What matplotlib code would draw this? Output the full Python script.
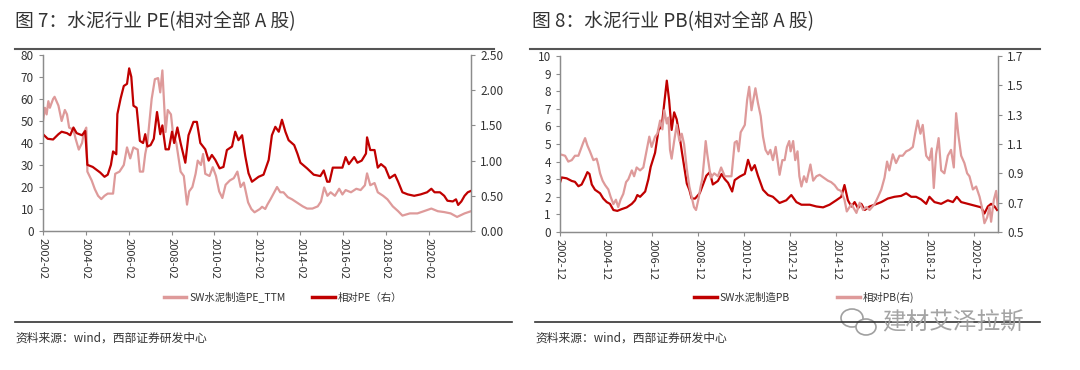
import matplotlib
matplotlib.use('Agg')
import matplotlib.pyplot as plt
from matplotlib.lines import Line2D
from matplotlib.patches import Ellipse

plt.rcParams['font.family'] = ['Noto Sans CJK SC', 'DejaVu Sans']

# ---- 数据：图7 水泥行业PE ----
pe_t = [2002.08, 2002.17, 2002.25, 2002.33, 2002.4, 2002.55, 2002.62, 2002.8, 2002.95, 2003.1,
        2003.2, 2003.3, 2003.5, 2003.6, 2003.75, 2003.9, 2004.0, 2004.1, 2004.15, 2004.35,
        2004.5, 2004.65, 2004.8, 2004.95, 2005.1, 2005.35, 2005.45, 2005.65, 2005.85, 2006.0,
        2006.15, 2006.3, 2006.5, 2006.6, 2006.75, 2006.85, 2006.95, 2007.15, 2007.3, 2007.45,
        2007.55, 2007.65, 2007.8, 2007.9, 2008.05, 2008.15, 2008.3, 2008.5, 2008.65, 2008.8,
        2008.9, 2009.05, 2009.2, 2009.3, 2009.45, 2009.55, 2009.65, 2009.85, 2010.0, 2010.15,
        2010.3, 2010.45, 2010.6, 2010.8, 2010.98, 2011.15, 2011.3, 2011.45, 2011.65, 2011.8,
        2011.95, 2012.2, 2012.3, 2012.45, 2012.55, 2012.7, 2012.87, 2013.0, 2013.15, 2013.3,
        2013.5, 2013.7, 2013.95, 2014.2, 2014.4, 2014.65, 2014.9, 2015.05, 2015.2, 2015.35,
        2015.5, 2015.7, 2015.9, 2016.05, 2016.2, 2016.45, 2016.7, 2016.9, 2017.1, 2017.2,
        2017.35, 2017.55, 2017.7, 2017.95, 2018.15, 2018.4, 2018.65, 2018.85, 2019.2, 2019.55,
        2019.85, 2020.2, 2020.5, 2020.8, 2021.1, 2021.4, 2021.75, 2022.05]
pe_ttm = [50, 56, 53, 59, 56, 60, 61, 57, 50, 55,
          53, 47, 46, 42, 37, 40, 45, 47, 27, 23,
          19, 16, 14.5, 16, 17, 17, 26, 27, 30, 38,
          33, 38, 37, 27, 27, 35, 40, 60, 69, 69.5,
          63, 73, 45, 55, 53, 44, 40, 27, 25, 12,
          18, 20, 26, 32, 30, 35, 26, 25, 29, 25,
          18, 15, 21, 23, 24, 27, 20, 22, 13, 10,
          8.5, 10, 11, 10, 12, 14.5, 17.6, 20, 17.6, 17.6,
          15.4, 14.4, 12.8, 11.2, 10.2, 10.2, 11.2, 13.4, 19.8, 16,
          17.6, 16, 19.2, 16.6, 18.6, 17.6, 19.2, 18.6, 20.8, 26.2,
          20.8, 21.8, 17.6, 16, 14.4, 11.2, 9, 7, 8, 8,
          9, 10.2, 9, 8.6, 8, 6.4, 8, 9]

rpe_t = [2002.08, 2002.3, 2002.55, 2002.8, 2002.95, 2003.2, 2003.35, 2003.5, 2003.65, 2003.9,
         2004.05, 2004.15, 2004.4, 2004.75, 2004.95, 2005.1, 2005.25, 2005.35, 2005.5, 2005.55,
         2005.7, 2005.85, 2006.0, 2006.1, 2006.2, 2006.3, 2006.45, 2006.6, 2006.75, 2006.85,
         2006.95, 2007.1, 2007.25, 2007.4, 2007.55, 2007.65, 2007.8, 2007.95, 2008.1, 2008.2,
         2008.35, 2008.5, 2008.72, 2008.87, 2009.1, 2009.26, 2009.42, 2009.65, 2009.81, 2009.96,
         2010.12, 2010.32, 2010.5, 2010.66, 2010.9, 2011.05, 2011.2, 2011.37, 2011.52, 2011.67,
         2011.83, 2012.14, 2012.37, 2012.61, 2012.76, 2012.92, 2013.08, 2013.23, 2013.39, 2013.54,
         2013.8, 2013.95, 2014.09, 2014.4, 2014.71, 2015.02, 2015.18, 2015.34, 2015.45, 2015.6,
         2015.8, 2016.05, 2016.2, 2016.35, 2016.6, 2016.75, 2016.95, 2017.15, 2017.2, 2017.35,
         2017.55, 2017.7, 2017.85, 2018.05, 2018.25, 2018.5, 2018.65, 2018.85, 2019.1, 2019.4,
         2019.7, 2020.0, 2020.2, 2020.35, 2020.6, 2020.8, 2020.95, 2021.2, 2021.35, 2021.45,
         2021.6, 2021.75, 2021.9, 2022.05]
rel_pe = [1.375, 1.31, 1.30, 1.375, 1.41, 1.39, 1.36, 1.47, 1.39, 1.36,
          1.42, 0.94, 0.91, 0.83, 0.77, 0.80, 0.94, 1.13, 1.09, 1.66,
          1.88, 2.06, 2.09, 2.31, 2.19, 1.78, 1.75, 1.28, 1.25, 1.375,
          1.20, 1.22, 1.31, 1.69, 1.375, 1.5, 1.16, 1.16, 1.41, 1.25,
          1.47, 1.25, 0.97, 1.36, 1.55, 1.55, 1.25, 1.16, 1.0, 1.08,
          1.01, 0.89, 0.91, 1.15, 1.20, 1.41, 1.29, 1.36, 1.06, 0.82,
          0.70, 0.77, 0.80, 1.01, 1.36, 1.48, 1.41, 1.58, 1.41, 1.29,
          1.22, 1.1, 0.97, 0.89, 0.8, 0.78, 0.86, 0.70, 0.70, 0.9,
          0.9, 0.9, 1.05, 0.95, 1.05, 0.97, 1.0, 1.1, 1.33, 1.15,
          1.15, 0.9, 0.95, 0.9, 0.75, 0.8, 0.7, 0.55, 0.52, 0.5,
          0.52, 0.55, 0.6, 0.55, 0.55, 0.5, 0.43, 0.42, 0.45, 0.37,
          0.42, 0.5, 0.55, 0.57]

# ---- 数据：图8 水泥行业PB ----
pb_t = [2002.92, 2002.99, 2003.21, 2003.43, 2003.57, 2003.72, 2003.86, 2004.01, 2004.11, 2004.2,
        2004.3, 2004.44, 2004.66, 2004.8, 2004.95, 2005.09, 2005.24, 2005.41, 2005.6, 2005.82,
        2006.04, 2006.18, 2006.28, 2006.4, 2006.62, 2006.76, 2006.86, 2007.05, 2007.2, 2007.34,
        2007.44, 2007.56, 2007.66, 2007.77, 2007.88, 2007.99, 2008.11, 2008.21, 2008.43, 2008.54,
        2008.64, 2008.79, 2008.99, 2009.28, 2009.43, 2009.56, 2009.78, 2009.94, 2010.08, 2010.22,
        2010.4, 2010.51, 2010.73, 2010.95, 2011.09, 2011.24, 2011.38, 2011.52, 2011.74, 2011.96,
        2012.17, 2012.46, 2012.75, 2012.97, 2013.19, 2013.41, 2013.77, 2014.06, 2014.35, 2014.63,
        2014.92, 2015.14, 2015.28, 2015.43, 2015.58, 2015.72, 2015.87, 2016.01, 2016.16, 2016.37,
        2016.59, 2016.88, 2017.16, 2017.45, 2017.74, 2017.96, 2018.18, 2018.39, 2018.61, 2018.83,
        2018.97, 2019.19, 2019.48, 2019.77, 2019.99, 2020.16, 2020.35, 2020.64, 2020.93, 2021.22,
        2021.36, 2021.51, 2021.65, 2021.8, 2021.91]
pb = [2.8, 3.1, 3.05, 2.9, 2.85, 2.6, 2.7, 3.1, 3.4, 3.3,
      2.7, 2.4, 2.2, 1.9, 1.7, 1.6, 1.25, 1.2, 1.3, 1.4,
      1.6, 1.8, 2.1, 2.0, 2.3, 3.0, 3.7, 4.5, 5.8, 6.0,
      7.2, 8.6, 7.5, 5.8, 6.8, 6.4, 5.5, 4.6, 2.75, 2.4,
      1.9, 1.9, 2.2, 3.2, 3.4, 2.7, 2.9, 3.3, 3.0, 2.8,
      2.3, 2.95, 3.15, 3.3, 4.1, 3.5, 3.8, 3.2, 2.4, 2.1,
      2.0, 1.65, 1.8, 2.1, 1.7, 1.55, 1.55, 1.45, 1.4, 1.55,
      1.8, 2.0, 2.67, 1.8, 1.45, 1.7, 1.35, 1.6, 1.25, 1.45,
      1.55, 1.7, 1.9, 2.0, 2.05, 2.2, 2.0, 2.0, 1.85, 1.6,
      2.0, 1.7, 1.6, 1.8, 1.7, 2.0, 1.7, 1.6, 1.5, 1.4,
      1.05, 1.45, 1.6, 1.45, 1.25]

rpb_t = [2002.92, 2003.14, 2003.28, 2003.43, 2003.57, 2003.72, 2003.86, 2003.93, 2004.01, 2004.11,
         2004.22, 2004.37, 2004.51, 2004.58, 2004.66, 2004.77, 2004.88, 2005.02, 2005.12, 2005.24,
         2005.35, 2005.45, 2005.55, 2005.67, 2005.79, 2005.89, 2006.04, 2006.14, 2006.25, 2006.4,
         2006.54, 2006.69, 2006.8, 2006.9, 2007.05, 2007.15, 2007.27, 2007.37, 2007.45, 2007.56,
         2007.63, 2007.7, 2007.77, 2007.88, 2007.99, 2008.11, 2008.21, 2008.31, 2008.43, 2008.54,
         2008.64, 2008.74, 2008.83, 2008.93, 2009.03, 2009.1, 2009.18, 2009.25, 2009.32, 2009.47,
         2009.62, 2009.78, 2009.92, 2010.08, 2010.22, 2010.37, 2010.51, 2010.6, 2010.68, 2010.77,
         2010.95, 2011.05, 2011.14, 2011.24, 2011.34, 2011.41, 2011.52, 2011.64, 2011.74, 2011.85,
         2011.96, 2012.06, 2012.17, 2012.29, 2012.39, 2012.46, 2012.58, 2012.68, 2012.78, 2012.88,
         2012.94, 2013.05, 2013.14, 2013.24, 2013.32, 2013.41, 2013.52, 2013.63, 2013.8, 2013.92,
         2014.06, 2014.2, 2014.38, 2014.56, 2014.7, 2014.85, 2014.99, 2015.13, 2015.28, 2015.38,
         2015.58, 2015.8, 2015.94, 2016.09, 2016.23, 2016.37, 2016.59, 2016.74, 2016.88, 2017.02,
         2017.13, 2017.23, 2017.38, 2017.52, 2017.67, 2017.81, 2017.96, 2018.1, 2018.25, 2018.35,
         2018.46, 2018.58, 2018.68, 2018.83, 2018.97, 2019.07, 2019.16, 2019.26, 2019.37, 2019.48,
         2019.62, 2019.77, 2019.91, 2020.03, 2020.13, 2020.23, 2020.35, 2020.49, 2020.61, 2020.71,
         2020.86, 2021.0, 2021.15, 2021.25, 2021.36, 2021.48, 2021.58, 2021.65, 2021.77, 2021.87,
         2021.94]
rel_pb = [1.03, 1.02, 0.98, 0.99, 1.02, 1.02, 1.08, 1.11, 1.14, 1.09,
          1.05, 0.99, 1.0, 0.96, 0.90, 0.85, 0.82, 0.79, 0.74, 0.69,
          0.72, 0.67, 0.72, 0.76, 0.84, 0.86, 0.92, 0.88, 0.94, 0.92,
          0.94, 1.06, 1.15, 1.08, 1.15, 1.17, 1.26, 1.20, 1.33, 1.24,
          1.28, 1.06, 1.0, 1.12, 1.23, 1.12, 1.17, 1.1, 0.93, 0.81,
          0.74, 0.67, 0.65, 0.72, 0.81, 0.86, 0.99, 1.12, 1.03, 0.87,
          0.9, 0.88, 0.94, 0.88, 0.88, 0.88, 1.11, 1.12, 1.05, 1.18,
          1.23, 1.4, 1.49, 1.33, 1.42, 1.48, 1.38, 1.29, 1.15, 1.06,
          1.03, 1.06, 0.99, 1.08, 0.97, 0.89, 0.99, 0.99, 1.08, 1.12,
          1.05, 1.12, 0.99, 1.05, 0.88, 0.81, 0.88, 0.84, 0.96, 0.85,
          0.88, 0.89, 0.87, 0.85, 0.84, 0.82, 0.79, 0.78, 0.72, 0.64,
          0.69, 0.63, 0.70, 0.65, 0.67, 0.65, 0.69, 0.74, 0.79, 0.87,
          0.98, 0.92, 1.03, 0.97, 1.02, 1.02, 1.05, 1.06, 1.08, 1.17,
          1.26, 1.17, 1.23, 1.02, 0.99, 1.07, 0.8, 1.03, 1.14, 0.92,
          0.9, 1.02, 1.06, 0.94, 1.31, 1.16, 1.02, 0.97, 0.9, 0.88,
          0.79, 0.81, 0.74, 0.67, 0.56, 0.6, 0.67, 0.57, 0.72, 0.78,
          0.67]

pe_ticks = [2002.08 + 2 * i for i in range(10)]
pe_labels = ['2002-02', '2004-02', '2006-02', '2008-02', '2010-02',
             '2012-02', '2014-02', '2016-02', '2018-02', '2020-02']
pb_ticks = [2002.92 + 2 * i for i in range(10)]
pb_labels = ['2002-12', '2004-12', '2006-12', '2008-12', '2010-12',
             '2012-12', '2014-12', '2016-12', '2018-12', '2020-12']

DARK = '#C00000'
PINK = '#DE9A9A'
AXC = '#8C8C8C'
TXT = '#333333'

fig = plt.figure(figsize=(10.8, 3.7), dpi=100)


def style_axes(ax, ax2):
    for a in (ax, ax2):
        a.spines['top'].set_visible(False)
        for s in ('left', 'right', 'bottom'):
            a.spines[s].set_color(AXC)
            a.spines[s].set_linewidth(0.9)
        a.tick_params(colors=AXC, labelcolor=TXT, labelsize=8.5, length=3, width=0.8)
    ax.tick_params(axis='x', labelrotation=270, labelsize=8, pad=2)


# 图7
ax1 = fig.add_axes([43 / 1080, 1 - 231 / 370, 428 / 1080, 176 / 370])
ax1b = ax1.twinx()
ax1.plot(pe_t, pe_ttm, color=PINK, lw=1.6)
ax1b.plot(rpe_t, rel_pe, color=DARK, lw=1.6)
ax1.set_xlim(2002.08, 2022.05)
ax1.set_ylim(0, 80)
ax1.set_yticks(range(0, 81, 10))
ax1b.set_ylim(0, 2.5)
ax1b.set_yticks([0, 0.5, 1.0, 1.5, 2.0, 2.5])
ax1b.set_yticklabels(['%.2f' % v for v in [0, 0.5, 1.0, 1.5, 2.0, 2.5]])
ax1.set_xticks(pe_ticks)
ax1.set_xticklabels(pe_labels)
style_axes(ax1, ax1b)

# 图8
ax2 = fig.add_axes([560 / 1080, 1 - 232 / 370, 438 / 1080, 176 / 370])
ax2b = ax2.twinx()
ax2.plot(pb_t, pb, color=DARK, lw=1.6)
ax2b.plot(rpb_t, rel_pb, color=PINK, lw=1.6)
ax2.set_xlim(2002.92, 2021.95)
ax2.set_ylim(0, 10)
ax2.set_yticks(range(0, 11))
ax2b.set_ylim(0.5, 1.7)
ax2b.set_yticks([0.5, 0.7, 0.9, 1.1, 1.3, 1.5, 1.7])
ax2b.set_yticklabels(['%.1f' % v for v in [0.5, 0.7, 0.9, 1.1, 1.3, 1.5, 1.7]])
ax2.set_xticks(pb_ticks)
ax2.set_xticklabels(pb_labels)
style_axes(ax2, ax2b)

# 标题与分隔线
fig.text(15 / 1080, 1 - 22 / 370, '图 7：水泥行业 PE(相对全部 A 股)', fontsize=13.5,
         color=TXT, va='center', ha='left')
fig.text(532 / 1080, 1 - 22 / 370, '图 8：水泥行业 PB(相对全部 A 股)', fontsize=13.5,
         color=TXT, va='center', ha='left')
for x0, x1 in [(15, 494), (530, 1040)]:
    fig.add_artist(Line2D([x0 / 1080, x1 / 1080], [1 - 49 / 370] * 2, color='#555555', lw=1.5))
for x0, x1 in [(15, 512), (535, 1040)]:
    fig.add_artist(Line2D([x0 / 1080, x1 / 1080], [1 - 322 / 370] * 2, color='#333333', lw=1.2))

# 图例
h_pink = Line2D([], [], color=PINK, lw=2.5)
h_dark = Line2D([], [], color=DARK, lw=2.5)
fig.legend([h_pink, h_dark], ['SW水泥制造PE_TTM', '相对PE（右）'], loc='center',
           bbox_to_anchor=(283 / 1080, 1 - 297 / 370), ncol=2, frameon=False,
           fontsize=7.5, handlelength=2.2, handletextpad=0.3, columnspacing=2.5,
           labelcolor=TXT)
fig.legend([h_dark, h_pink], ['SW水泥制造PB', '相对PB(右)'], loc='center',
           bbox_to_anchor=(804 / 1080, 1 - 297 / 370), ncol=2, frameon=False,
           fontsize=7.5, handlelength=2.2, handletextpad=0.3, columnspacing=4.5,
           labelcolor=TXT)

# 资料来源
fig.text(15 / 1080, 1 - 338 / 370, '资料来源：wind，西部证券研发中心', fontsize=8.5,
         color=TXT, va='center', ha='left')
fig.text(535 / 1080, 1 - 338 / 370, '资料来源：wind，西部证券研发中心', fontsize=8.5,
         color=TXT, va='center', ha='left')

# 水印（微信图标 + 文字）
fig.add_artist(Ellipse((852 / 1080, 1 - 318 / 370), 22 / 1080, 18 / 370,
                       transform=fig.transFigure, fill=False, ec='#a0a0a0', lw=1.2))
fig.add_artist(Ellipse((866 / 1080, 1 - 327 / 370), 20 / 1080, 16 / 370,
                       transform=fig.transFigure, fc='white', ec='#a0a0a0', lw=1.2))
fig.text(882 / 1080, 1 - 322 / 370, '建材艾泽拉斯', fontsize=17, color='#9a9a9a',
         va='center', ha='left', alpha=0.9)

fig.savefig('out.png', dpi=100)
